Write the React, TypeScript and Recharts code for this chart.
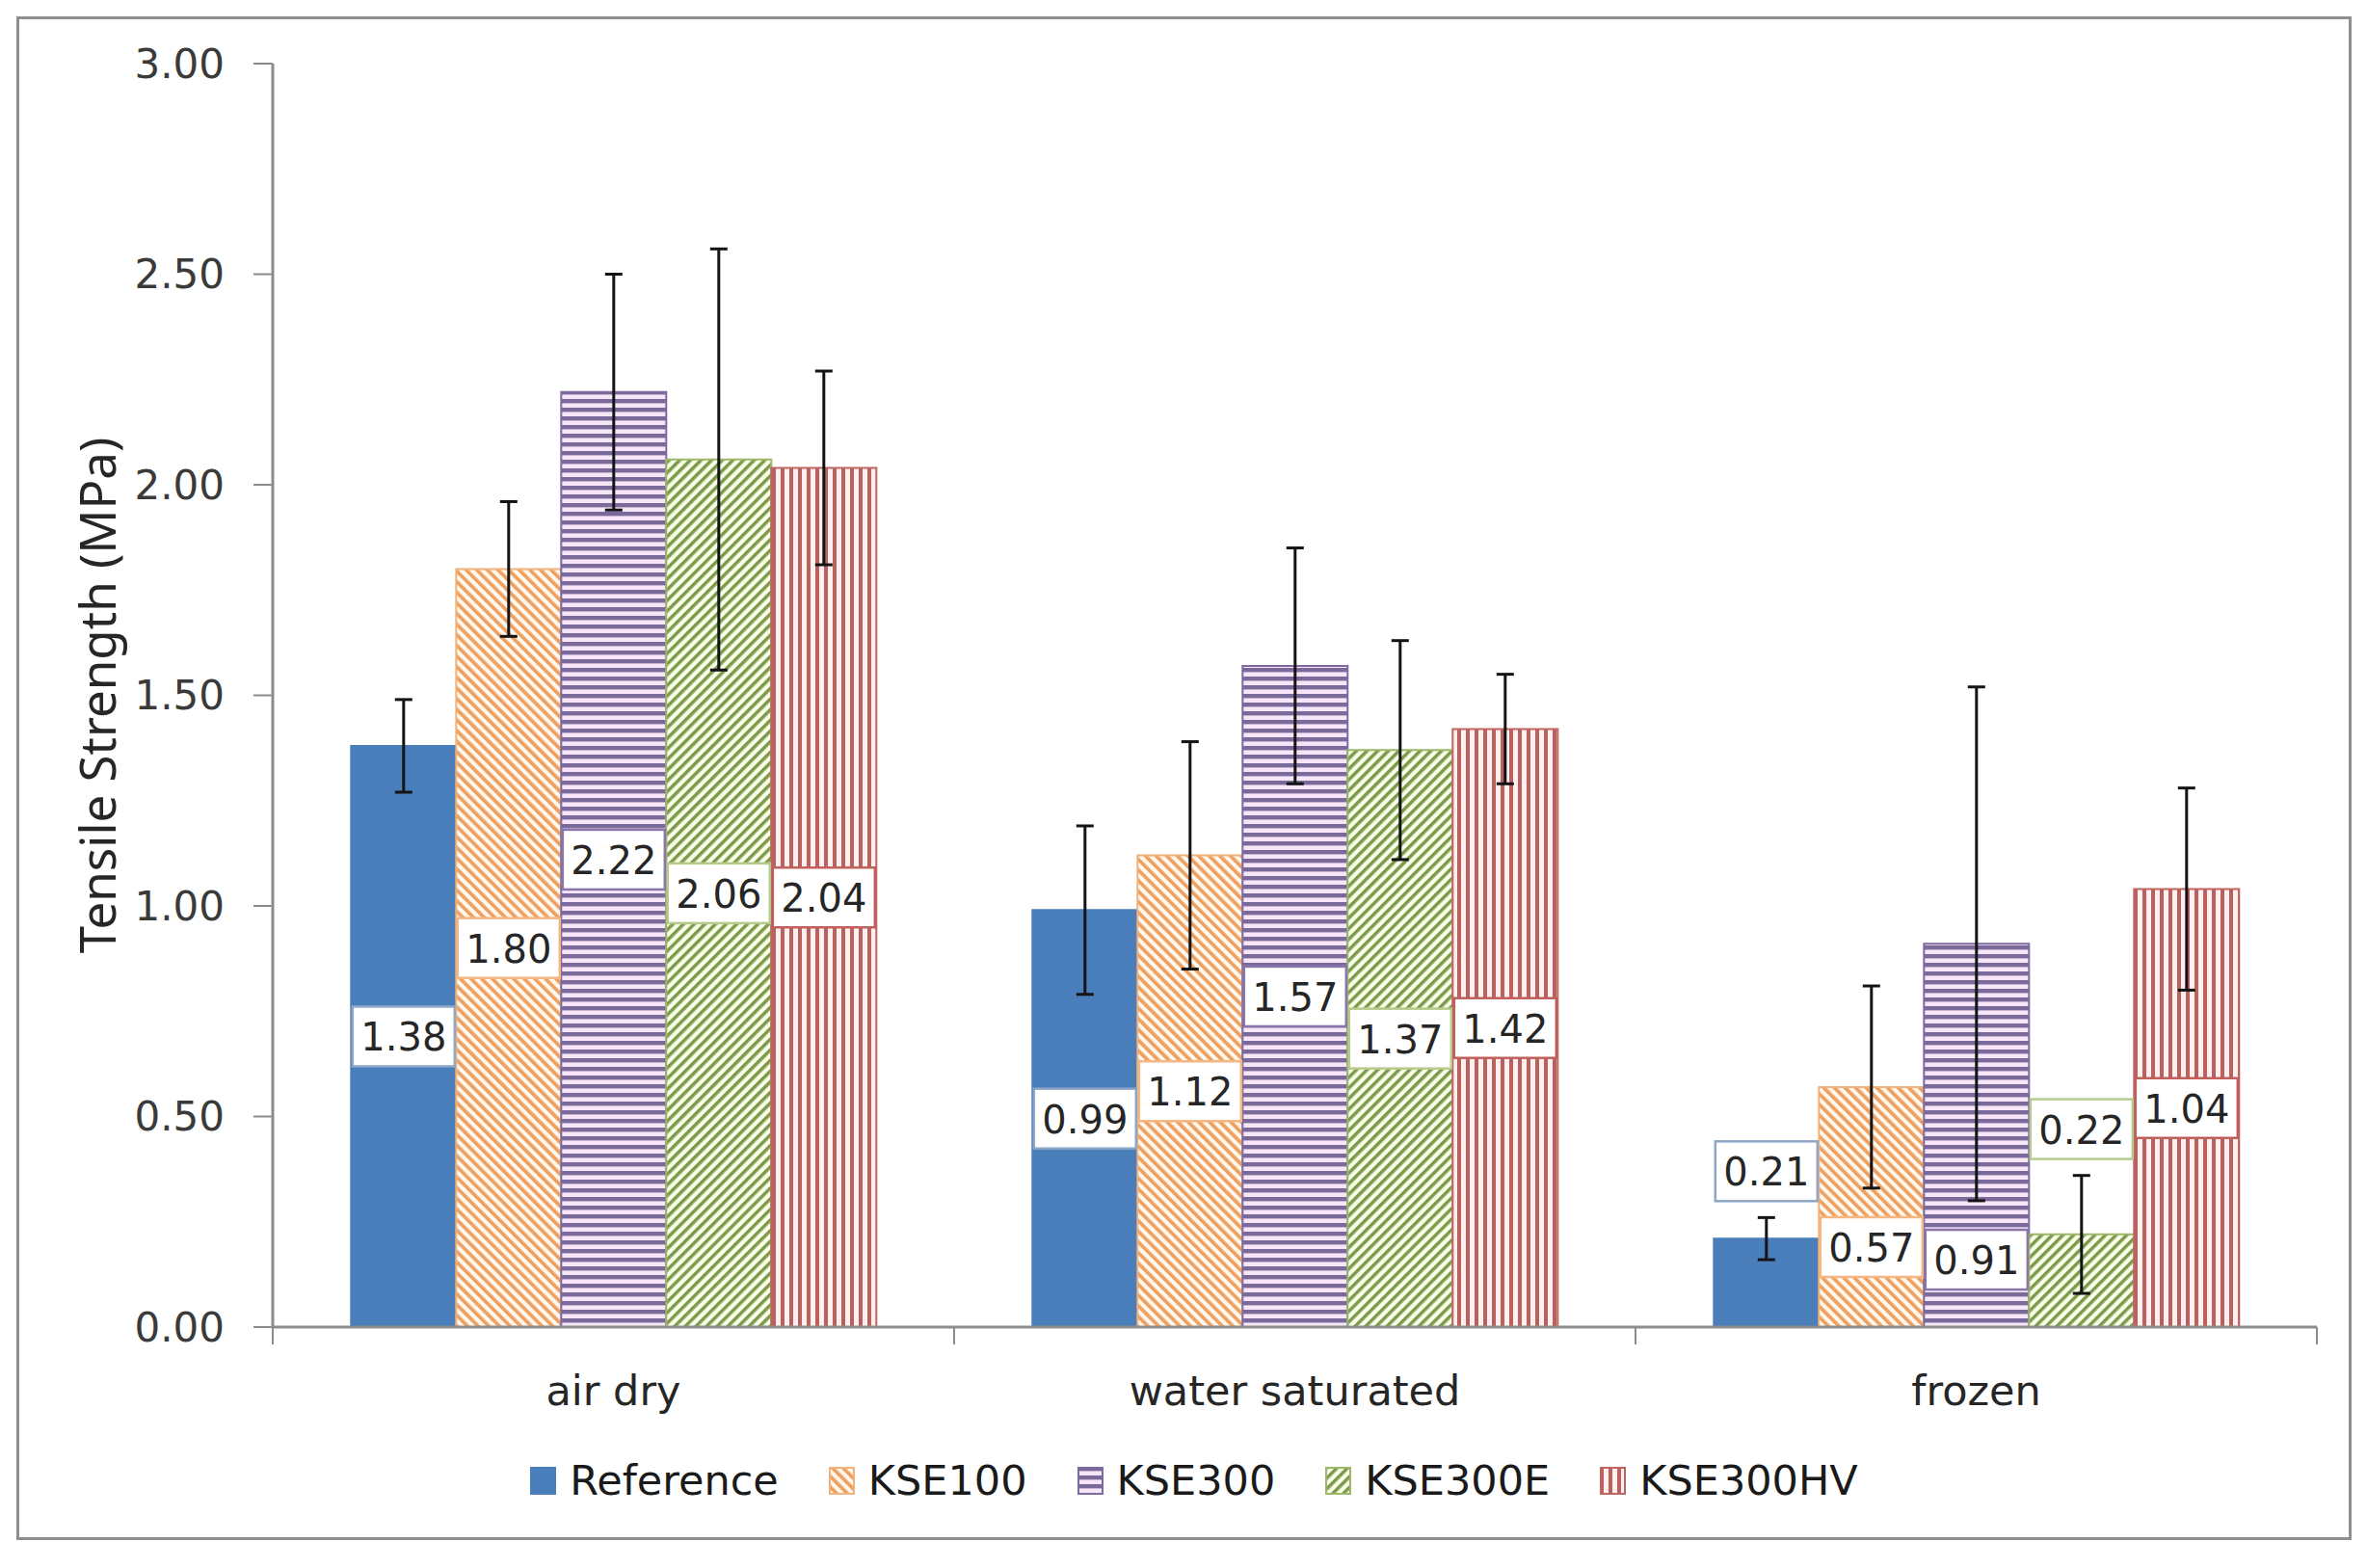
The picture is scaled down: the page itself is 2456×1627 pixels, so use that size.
import React from 'react';
import { BarChart, Bar, XAxis, YAxis, ErrorBar, LabelList, Legend } from 'recharts';

// ---------- data ----------
const categories = ['air dry', 'water saturated', 'frozen'];

const reference = [1.38, 0.99, 0.21];
const kse100 = [1.8, 1.12, 0.57];
const kse300 = [2.22, 1.57, 0.91];
const kse300e = [2.06, 1.37, 0.22];
const kse300hv = [2.04, 1.42, 1.04];

const referenceErr = [0.11, 0.2, 0.05];
const kse100Err = [0.16, 0.27, 0.24];
const kse300Err = [0.28, 0.28, 0.61];
const kse300eErr = [0.5, 0.26, 0.14];
const kse300hvErr = [0.23, 0.13, 0.24];

// where a data label sits (MPa) when it was moved off the bar centre
const referenceLabelAt = [null, null, 0.37];
const kse100LabelAt = [null, null, 0.19];
const kse300LabelAt = [null, null, 0.16];
const kse300eLabelAt = [null, null, 0.47];
const kse300hvLabelAt = [null, null, null];

const yTicks = [0, 0.5, 1, 1.5, 2, 2.5, 3];

// ---------- series config ----------
const series = [
  { key: 'sReference', name: 'Reference', values: reference, err: referenceErr, labelAt: referenceLabelAt, fill: '#4a7ebb', stroke: '#4a7ebb', box: '#8ea6c8' },
  { key: 'sKse100', name: 'KSE100', values: kse100, err: kse100Err, labelAt: kse100LabelAt, fill: 'url(#pK100)', stroke: '#f2b27c', box: '#f4b784' },
  { key: 'sKse300', name: 'KSE300', values: kse300, err: kse300Err, labelAt: kse300LabelAt, fill: 'url(#pK300)', stroke: '#7d6aa0', box: '#8a76aa' },
  { key: 'sKse300e', name: 'KSE300E', values: kse300e, err: kse300eErr, labelAt: kse300eLabelAt, fill: 'url(#pK300E)', stroke: '#9cb66a', box: '#b5cb8c' },
  { key: 'sKse300hv', name: 'KSE300HV', values: kse300hv, err: kse300hvErr, labelAt: kse300hvLabelAt, fill: 'url(#pK300HV)', stroke: '#c06462', box: '#c0605d' },
];

const data = categories.map((category, i) => {
  const row: any = { category };
  series.forEach((s) => {
    row[s.key] = s.values[i];
    row[s.key + 'Err'] = s.err[i];
  });
  return row;
});

const NUM_FONT = 'DejaVu Sans';
const CAT_TICK_MARGIN = 50;

const makeLabel = (s: any) => (props: any) => {
  const vb = props.viewBox || props;
  const x = Number(vb.x);
  const y = Number(vb.y);
  const w = Number(vb.width);
  const h = Number(vb.height);
  const idx = props.index;
  const value = Number(props.value);
  const bottom = y + h;
  const at = idx != null ? s.labelAt[idx] : null;
  const cy = at == null || !value ? y + h / 2 : bottom - (h / value) * at;
  const cx = x + w / 2;
  return (
    <g>
      <rect x={cx - 53} y={cy - 31} width={106} height={62} fill="#ffffff" stroke={s.box} strokeWidth={2.5} />
      <text x={cx} y={cy + 1} textAnchor="middle" dominantBaseline="central" fontFamily={NUM_FONT} fontSize={40} fill="#262626">
        {value.toFixed(2)}
      </text>
    </g>
  );
};

const renderCategoryTick = (props: any) => {
  const { x, y, payload, index, visibleTicksCount } = props;
  const half = payload && typeof payload.offset === 'number' && payload.offset > 0 ? payload.offset : (2404 - 283) / 6;
  const axisY = y - CAT_TICK_MARGIN;
  const last = index === (visibleTicksCount ?? 3) - 1;
  return (
    <g>
      <line x1={x - half} y1={axisY} x2={x - half} y2={axisY + 18} stroke="#8c8c8c" strokeWidth={2} />
      {last && <line x1={x + half} y1={axisY} x2={x + half} y2={axisY + 18} stroke="#8c8c8c" strokeWidth={2} />}
      <text x={x} y={y} dy="0.71em" textAnchor="middle" fontFamily={NUM_FONT} fontSize={43} fill="#262626">
        {payload.value}
      </text>
    </g>
  );
};

const renderLegend = () => (
  <div style={{ display: 'flex', justifyContent: 'center', alignItems: 'center', fontFamily: NUM_FONT, fontSize: 43, color: '#1a1a1a', height: 50 }}>
    {series.map((s, i) => (
      <div key={s.key} style={{ display: 'flex', alignItems: 'center', marginLeft: i ? 52 : 0 }}>
        <svg width={27} height={29} style={{ marginRight: 14 }}>
          <rect x={1} y={1} width={25} height={27} fill={s.fill} stroke={s.stroke} strokeWidth={2} />
        </svg>
        <span>{s.name}</span>
      </div>
    ))}
  </div>
);

const renderYTitle = (props: any) => {
  const vb = props && props.viewBox ? props.viewBox : { y: 66, height: 1311 };
  const cy = vb.y + vb.height / 2;
  return (
    <text x={100} y={cy} transform={`rotate(-90 100 ${cy})`} textAnchor="middle" dominantBaseline="central" fontFamily="Noto Sans" fontSize={51} fill="#262626">
      Tensile Strength (MPa)
    </text>
  );
};

export default function App() {
  return (
    <div style={{ position: 'absolute', left: 0, top: 0, width: 2456, height: 1627, background: '#ffffff' }}>
      <div style={{ position: 'absolute', left: 17, top: 17, width: 2423, height: 1581, border: '3px solid #8e8e8e', boxSizing: 'border-box' }} />
      <div style={{ position: 'absolute', left: 0, top: 0 }}>
        <BarChart width={2456} height={1627} data={data} margin={{ top: 66, right: 52, left: 0, bottom: 150 }} barCategoryGap="11.5%" barGap={0}>
          <defs>
            <pattern id="pK100" patternUnits="userSpaceOnUse" width={7.8} height={7.8} patternTransform="rotate(-45)">
              <rect x={0} y={0} width={7.8} height={7.8} fill="#fff8ee" />
              <rect x={0} y={0} width={3.7} height={7.8} fill="#eea060" />
            </pattern>
            <pattern id="pK300" patternUnits="userSpaceOnUse" width={9} height={9}>
              <rect x={0} y={0} width={9} height={9} fill="#f7e6f8" />
              <rect x={0} y={0} width={9} height={4.4} fill="#7a6a9c" />
            </pattern>
            <pattern id="pK300E" patternUnits="userSpaceOnUse" width={7.8} height={7.8} patternTransform="rotate(45)">
              <rect x={0} y={0} width={7.8} height={7.8} fill="#f9fee9" />
              <rect x={0} y={0} width={3.5} height={7.8} fill="#7d9a4c" />
            </pattern>
            <pattern id="pK300HV" patternUnits="userSpaceOnUse" width={9} height={9}>
              <rect x={0} y={0} width={9} height={9} fill="#fff0ef" />
              <rect x={0} y={0} width={4} height={9} fill="#b8625f" />
            </pattern>
          </defs>
          <XAxis
            dataKey="category"
            height={100}
            axisLine={{ stroke: '#8c8c8c', strokeWidth: 3 }}
            tickLine={false}
            tickSize={0}
            tickMargin={CAT_TICK_MARGIN}
            tick={renderCategoryTick}
            interval={0}
          />
          <XAxis xAxisId="top" orientation="top" type="number" domain={[0, 3]} height={0} tick={false} tickLine={false} axisLine={{ stroke: '#6e6e6e', strokeWidth: 2 }} />
          <YAxis
            domain={[0, 3]}
            ticks={yTicks}
            width={283}
            tickSize={20}
            tickMargin={30}
            tickFormatter={(v: number) => v.toFixed(2)}
            axisLine={{ stroke: '#8c8c8c', strokeWidth: 3 }}
            tickLine={{ stroke: '#8c8c8c', strokeWidth: 2 }}
            tick={{ fontFamily: NUM_FONT, fontSize: 42, fill: '#3a3a3a' }}
            label={renderYTitle}
          />
          <YAxis yAxisId="right" orientation="right" type="number" domain={[0, 3]} width={0} tick={false} tickLine={false} axisLine={{ stroke: '#6e6e6e', strokeWidth: 2 }} />
          <Legend verticalAlign="middle" align="center" content={renderLegend} wrapperStyle={{ top: 1511, left: 11, width: 2456 }} />
          {series.map((s) => (
            <Bar key={s.key} dataKey={s.key} name={s.name} fill={s.fill} stroke={s.stroke} strokeWidth={2} isAnimationActive={false}>
              <ErrorBar dataKey={s.key + 'Err'} width={9} strokeWidth={3} stroke="#141414" direction="y" />
              <LabelList dataKey={s.key} content={makeLabel(s)} />
            </Bar>
          ))}
        </BarChart>
      </div>
    </div>
  );
}
